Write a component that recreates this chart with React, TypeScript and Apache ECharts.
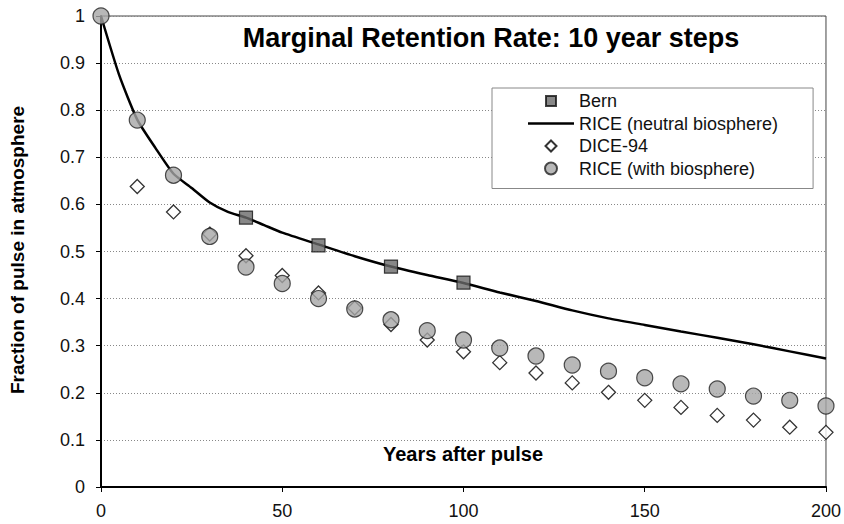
import React, { useEffect, useRef } from "react";
import * as echarts from "echarts";

const titleText = "Marginal Retention Rate: 10 year steps";
const xAxisTitle = "Years after pulse";
const yAxisTitle = "Fraction of pulse in atmosphere";

const seriesNames = ["Bern", "RICE (neutral biosphere)", "DICE-94", "RICE (with biosphere)"];

const bernYears = [40, 60, 80, 100];
const bernValues = [0.572, 0.513, 0.468, 0.434];

const riceNeutralYears = [0, 5, 10, 15, 20, 25, 30, 35, 40, 45, 50, 60, 70, 80, 90, 100, 110, 120, 130, 140, 150, 160, 170, 180, 190, 200];
const riceNeutralValues = [1.0, 0.875, 0.78, 0.72, 0.665, 0.635, 0.604, 0.584, 0.572, 0.556, 0.54, 0.515, 0.49, 0.468, 0.45, 0.433, 0.413, 0.395, 0.375, 0.358, 0.344, 0.33, 0.317, 0.303, 0.288, 0.273];

const diceYears = [10, 20, 30, 40, 50, 60, 70, 80, 90, 100, 110, 120, 130, 140, 150, 160, 170, 180, 190, 200];
const diceValues = [0.638, 0.584, 0.537, 0.491, 0.449, 0.412, 0.38, 0.345, 0.312, 0.287, 0.264, 0.242, 0.221, 0.201, 0.184, 0.169, 0.152, 0.142, 0.127, 0.116];

const riceBioYears = [0, 10, 20, 30, 40, 50, 60, 70, 80, 90, 100, 110, 120, 130, 140, 150, 160, 170, 180, 190, 200];
const riceBioValues = [1.0, 0.779, 0.662, 0.532, 0.467, 0.432, 0.4, 0.378, 0.355, 0.332, 0.312, 0.295, 0.278, 0.259, 0.246, 0.232, 0.219, 0.208, 0.193, 0.184, 0.172];

const yTickLabels = ["0", "0.1", "0.2", "0.3", "0.4", "0.5", "0.6", "0.7", "0.8", "0.9", "1"];
const xTickLabels = ["0", "50", "100", "150", "200"];

const FONT = "'Liberation Sans', Arial, sans-serif";

// legend icons: 46x12 boxes (corner moveTo points keep the box) with the mark in the middle
const ICON_BOX = "M0,0M46,12";
const legendIcons = [
  "path://" + ICON_BOX + "M18,1h10v10h-10z",
  "path://" + ICON_BOX + "M0,4.8h46v2.4h-46z",
  "path://" + ICON_BOX + "M23,0.5L28.5,6L23,11.5L17.5,6z",
  "path://" + ICON_BOX + "M29,6A6,6 0 1 1 17,6A6,6 0 1 1 29,6z",
];

const pairs = (xs: number[], ys: number[]) => xs.map((x, i) => [x, ys[i]]);

export default function App() {
  const ref = useRef<HTMLDivElement>(null);
  useEffect(() => {
    document.body.style.margin = "0";
    if (!ref.current) return;
    const chart = echarts.init(ref.current, undefined, { renderer: "svg" });
    chart.setOption({
      animation: false,
      backgroundColor: "#ffffff",
      grid: {
        left: 101,
        right: 18,
        top: 16,
        bottom: 37,
        show: true,
        borderColor: "#444",
        borderWidth: 1,
        backgroundColor: "transparent",
      },
      xAxis: {
        type: "value",
        min: 0,
        max: 200,
        interval: 50,
        axisLine: { lineStyle: { color: "#000", width: 2 } },
        axisTick: { show: true, length: 5, lineStyle: { color: "#000", width: 1 } },
        splitLine: { show: false },
        axisLabel: {
          margin: 15,
          fontSize: 18,
          fontFamily: FONT,
          color: "#111",
          formatter: (v: number) => xTickLabels[Math.round(v / 50)] ?? String(v),
        },
      },
      yAxis: {
        type: "value",
        min: 0,
        max: 1,
        interval: 0.1,
        axisLine: { show: true, lineStyle: { color: "#000", width: 2 } },
        axisTick: { show: true, length: 5, lineStyle: { color: "#000", width: 1 } },
        splitLine: { show: true, lineStyle: { color: "#888", width: 1, type: [1, 2] } },
        axisLabel: {
          margin: 16,
          fontSize: 18,
          fontFamily: FONT,
          color: "#111",
          formatter: (v: number) => yTickLabels[Math.round(v * 10)] ?? String(v),
        },
      },
      legend: {
        orient: "vertical",
        left: 492,
        top: 88,
        padding: [4, 35, 11, 35],
        itemWidth: 46,
        itemHeight: 12,
        itemGap: 4.5,
        backgroundColor: "#ffffff",
        borderColor: "#888",
        borderWidth: 1,
        borderRadius: 0,
        textStyle: { fontSize: 18, fontFamily: FONT, color: "#111", lineHeight: 18 },
        data: seriesNames.map((name, i) => ({ name, icon: legendIcons[i] })),
      },
      graphic: [
        {
          type: "text",
          x: 491,
          y: 38,
          style: {
            text: titleText,
            fontSize: 27,
            fontWeight: "bold",
            fontFamily: FONT,
            fill: "#000",
            align: "center",
            verticalAlign: "middle",
          },
        },
        {
          type: "text",
          x: 463,
          y: 454,
          style: {
            text: xAxisTitle,
            fontSize: 20,
            fontWeight: "bold",
            fontFamily: FONT,
            fill: "#000",
            align: "center",
            verticalAlign: "middle",
          },
        },
        {
          type: "text",
          x: 17,
          y: 250,
          rotation: Math.PI / 2,
          style: {
            text: yAxisTitle,
            fontSize: 19,
            fontWeight: "bold",
            fontFamily: FONT,
            fill: "#000",
            align: "center",
            verticalAlign: "middle",
          },
        },
      ],
      series: [
        {
          name: seriesNames[1],
          type: "line",
          data: pairs(riceNeutralYears, riceNeutralValues),
          showSymbol: false,
          symbol: "none",
          smooth: 0.2,
          lineStyle: { color: "#000", width: 2.5 },
          itemStyle: { color: "#000" },
          z: 2,
        },
        {
          name: seriesNames[2],
          type: "scatter",
          data: pairs(diceYears, diceValues),
          symbol: "diamond",
          symbolSize: 14,
          itemStyle: { color: "#ffffff", borderColor: "#000", borderWidth: 1.3 },
          z: 3,
        },
        {
          name: seriesNames[3],
          type: "scatter",
          data: pairs(riceBioYears, riceBioValues),
          symbol: "circle",
          symbolSize: 16,
          itemStyle: { color: "#a6a6a6", borderColor: "#222", borderWidth: 1.2 },
          z: 4,
        },
        {
          name: seriesNames[0],
          type: "scatter",
          data: pairs(bernYears, bernValues),
          symbol: "rect",
          symbolSize: 13,
          itemStyle: { color: "#6a6a6a", borderColor: "#111", borderWidth: 1.2 },
          z: 5,
        },
      ],
    });
    return () => chart.dispose();
  }, []);
  return <div ref={ref} style={{ width: 844, height: 524 }} />;
}
